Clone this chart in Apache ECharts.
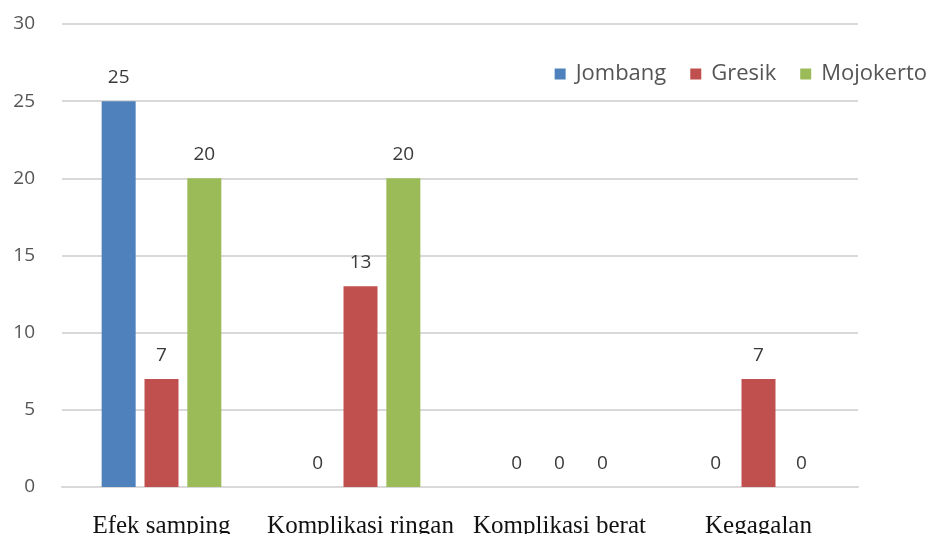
<!DOCTYPE html>
<html>
<head>
<meta charset="utf-8">
<script src="https://cdn.jsdelivr.net/npm/echarts@6/dist/echarts.min.js"></script>
<style>
  html, body { margin: 0; padding: 0; background: #fff; }
  #chart { width: 933px; height: 534px; }
</style>
</head>
<body>
<div id="chart"></div>
<script>
// kategori
var categories = ['Efek samping', 'Komplikasi ringan', 'Komplikasi berat', 'Kegagalan'];
// nilai per kabupaten
var jombang = [25, 0, 0, 0];
var gresik = [7, 13, 0, 7];
var mojokerto = [20, 20, 0, 0];

var myChart = echarts.init(document.getElementById('chart'));

var labelStyle = {
  show: true,
  position: 'top',
  distance: 14,
  color: '#3a3a3a',
  fontSize: 19,
  fontFamily: 'Open Sans'
};

function bar(name, data, color) {
  return {
    name: name,
    type: 'bar',
    data: data,
    barWidth: 34,
    barGap: '26%',
    itemStyle: { color: color },
    label: labelStyle
  };
}

var option = {
  animation: false,
  grid: { left: 62, right: 75, top: 24, bottom: 47, outerBoundsMode: 'none' },
  legend: {
    right: 1,
    top: 58,
    itemWidth: 11,
    itemHeight: 11,
    itemGap: 24,
    icon: 'rect',
    textStyle: { color: '#555', fontSize: 22, fontFamily: 'Open Sans', padding: [0, 0, 0, 5] },
    data: ['Jombang', 'Gresik', 'Mojokerto']
  },
  xAxis: {
    type: 'category',
    data: categories,
    axisTick: { show: false },
    axisLine: { lineStyle: { color: '#d9d9d9', width: 2 } },
    axisLabel: {
      color: '#111',
      fontSize: 25,
      fontFamily: 'Liberation Serif',
      margin: 27,
      interval: 0
    }
  },
  yAxis: {
    type: 'value',
    min: 0,
    max: 30,
    interval: 5,
    axisLine: { show: false },
    axisTick: { show: false },
    splitLine: { lineStyle: { color: '#d9d9d9', width: 2 } },
    axisLabel: {
      color: '#555',
      fontSize: 19,
      fontFamily: 'Open Sans',
      margin: 27
    }
  },
  series: [
    bar('Jombang', jombang, '#4f81bd'),
    bar('Gresik', gresik, '#c0504d'),
    bar('Mojokerto', mojokerto, '#9bbb59')
  ]
};

myChart.setOption(option);
</script>
</body>
</html>
